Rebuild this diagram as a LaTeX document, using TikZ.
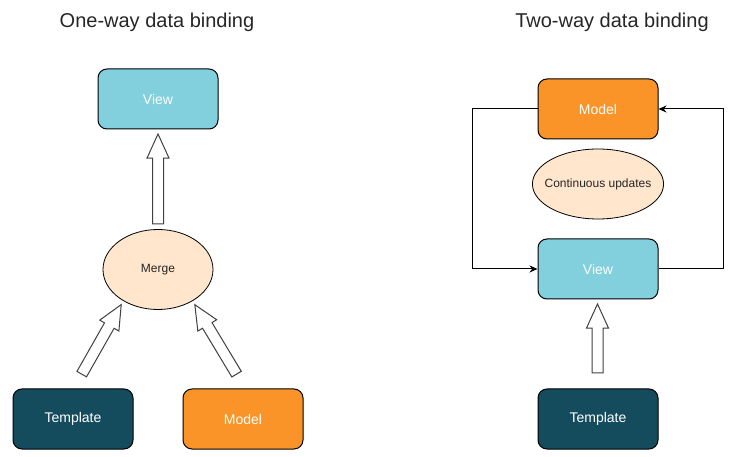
\documentclass[tikz,border=0pt]{standalone}
\usepackage{xcolor}
\usepackage{fontspec}
\setmainfont{Liberation Sans}
\usepackage{tikz}
\usetikzlibrary{positioning,shapes.arrows,shapes.geometric,arrows.meta}

\definecolor{viewcol}{HTML}{82CFDD}
\definecolor{modelcol}{HTML}{FA9428}
\definecolor{templcol}{HTML}{144C5E}
\definecolor{mergecol}{HTML}{FFE6CC}

\tikzset{
	box/.style={draw=black, line width=1pt, rounded corners=9pt, minimum width=120pt, minimum height=60pt, text=white, font=\fontsize{14}{16}\selectfont},
	viewbox/.style={box, fill=viewcol},
	modelbox/.style={box, fill=modelcol},
	templbox/.style={box, fill=templcol},
	blob/.style={draw=black, line width=0.8pt, ellipse, fill=mergecol, inner sep=0pt, text=black!85, font=\fontsize{12}{14}\selectfont},
	blockarrow/.style={single arrow, draw=black!75, fill=white, line width=1pt, inner sep=0pt, inner ysep=5pt, text height=0pt, text depth=0pt, single arrow head extend=5.5pt, single arrow tip angle=49, single arrow head indent=0pt},
	title/.style={text=black!85, font=\fontsize{20}{24}\selectfont},
	link/.style={draw=black, line width=1pt, -{Stealth[length=8pt,width=7pt]}}
}

\begin{document}
\begin{tikzpicture}[x=1pt, y=-1pt]
	\useasboundingbox (0,0) rectangle (748,457);
	\node[title] (t1) at (157,22) {One-way data binding};
	\node[title] (t2) at (612,22) {Two-way data binding};
	\node[viewbox] (v1) at (158,99) {View};
	\node[blob, minimum width=110pt, minimum height=80pt] (m1) at (158,269.5) {Merge};
	\node[templbox] (tp1) at (73,419) {Template};
	\node[modelbox] (md1) at (243,419) {Model};
	\node[blockarrow, minimum height=90pt, rotate=90] (a1) at (158,185) {};
	\node[blockarrow, minimum height=80pt, rotate=60.4] (a2) at (98.5,344.6) {};
	\node[blockarrow, minimum height=81pt, rotate=121] (a3) at (218.8,344.6) {};
	\node[modelbox] (md2) at (598,109) {Model};
	\node[blob, inner xsep=-7pt, minimum width=130pt, minimum height=70pt] (cu) at (598,184) {Continuous updates};
	\node[viewbox] (v2) at (598,269) {View};
	\node[templbox] (tp2) at (598,419) {Template};
	\node[blockarrow, minimum height=69pt, rotate=90] (a4) at (597.5,344.5) {};
	\draw[link] (md2.west) -- ++(-65,0) |- (v2.west);
	\draw[link] (v2.east) -- ++(65,0) |- (md2.east);
\end{tikzpicture}
\end{document}
